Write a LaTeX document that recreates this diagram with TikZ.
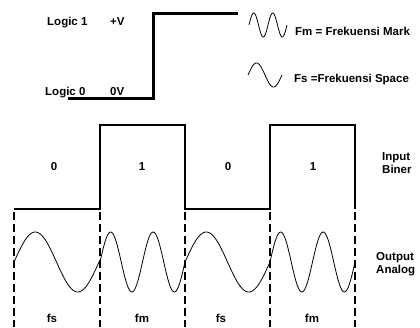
\documentclass[tikz,border=0pt]{standalone}
\usepackage{fontspec}
\setmainfont{Liberation Sans}
\tikzset{
  lbl/.style={font=\bfseries\fontsize{11.5}{13}\selectfont, inner sep=0pt},
  sigline/.style={line width=1.8pt},
  wave/.style={line width=0.8pt, samples=80, smooth},
  dashline/.style={line width=1.8pt, dash pattern=on 8pt off 4pt}
}
\begin{document}
\begin{tikzpicture}[x=1pt,y=-1pt]
    \useasboundingbox (0,0) rectangle (420,327);
    % logic levels
    \draw[line width=3pt] (68,98) -- (153,98) -- (153,13) -- (238,13);
    \node[lbl, anchor=base west] (logicone) at (47,25) {Logic 1};
    \node[lbl, anchor=base west] (plusv) at (110,25) {+V};
    \node[lbl, anchor=base west] (logiczero) at (45,95) {Logic 0};
    \node[lbl, anchor=base west] (zerov) at (110,95) {0V};
    % legend waves
    \draw[wave] plot[domain=249:287] (\x,{25-12*sin(720/38*(\x-249))});
    \node[lbl, anchor=base west] (fmlabel) at (295,35) {Fm = Frekuensi Mark};
    \draw[wave] plot[domain=248:282] (\x,{75-12*sin(360/34*(\x-248))});
    \node[lbl, anchor=base west] (fslabel) at (294,82) {Fs =Frekuensi Space};
    % input biner
    \draw[sigline] (14,209) -- (100,209) -- (100,125) -- (185,125) -- (185,209)
        -- (270,209) -- (270,125) -- (355,125) -- (355,209);
    \foreach \x/\b [count=\i] in {54/0,142/1,228/0,313/1}
        \node[lbl, anchor=base] (bit\i) at (\x,170) {\b};
    \node[lbl, anchor=west, align=left] (input) at (382,163) {Input\\Biner};
    % output analog
    \foreach \x in {14,100,185,270,355}
        \draw[dashline] (\x,212) -- (\x,327);
    \foreach \a/\n in {14/1,100/2,185/1,270/2}
        \draw[wave] plot[domain=\a:\a+85] (\x,{262-30*sin(360*\n/85*(\x-\a))});
    \foreach \x/\f [count=\i] in {52/fs,142/fm,221/fs,312/fm}
        \node[lbl, anchor=base] (freq\i) at (\x,322) {\f};
    \node[lbl, anchor=west, align=left] (output) at (376,264) {Output\\Analog};
\end{tikzpicture}
\end{document}
